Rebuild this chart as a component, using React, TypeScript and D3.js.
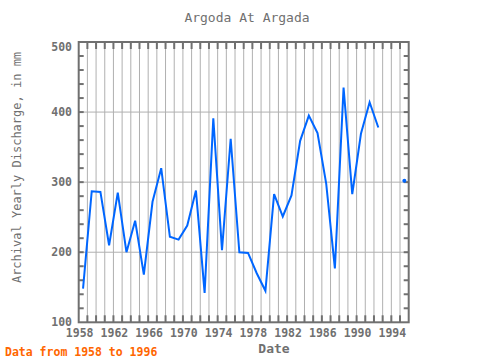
import React from "react";
import * as d3 from "d3";

const years: number[] = [
  1958, 1959, 1960, 1961, 1962, 1963, 1964, 1965, 1966, 1967,
  1968, 1969, 1970, 1971, 1972, 1973, 1974, 1975, 1976, 1977,
  1978, 1979, 1980, 1981, 1982, 1983, 1984, 1985, 1986, 1987,
  1988, 1989, 1990, 1991, 1992, 1993, 1994, 1995,
];
const discharge: (number | null)[] = [
  148, 287, 286, 210, 285, 200, 245, 168, 272, 320,
  222, 218, 238, 288, 142, 391, 203, 362, 200, 199,
  170, 145, 283, 251, 281, 359, 395, 370, 298, 177,
  435, 283, 369, 414, 378, null, null, 302,
];
const xTickLabels: number[] = [1958, 1962, 1966, 1970, 1974, 1978, 1982, 1986, 1990, 1994];
const yTickLabels: number[] = [100, 200, 300, 400, 500];

const W = 480;
const H = 360;
const L = 78.7, R = 408.7, T = 42, B = 322.3;
const FONT = "'DejaVu Sans Mono', monospace";
const GRAY = "#707070";

export default function App() {
  const x = d3.scaleLinear().domain([1958, 1996]).range([L, R]);
  const y = d3.scaleLinear().domain([100, 500]).range([B, T]);
  const pts = years.map((yr, i) => ({ t: yr + 0.5, v: discharge[i] }));
  const line = d3
    .line<{ t: number; v: number | null }>()
    .defined((d) => d.v !== null)
    .x((d) => x(d.t))
    .y((d) => y(d.v as number));
  const isolated = pts.filter((d, i) => d.v !== null && (i === 0 || pts[i - 1].v === null) && (i === pts.length - 1 || pts[i + 1].v === null));
  const yearTicks = d3.range(1959, 1996);
  const minorY = d3.range(120, 500, 20);
  const majorY = [200, 300, 400];

  return (
    <svg width={W} height={H} style={{ position: "absolute", left: 0, top: 0 }}>
      <rect x={0} y={0} width={W} height={H} fill="#fff" />
      {yearTicks.map((t) => (
        <line key={"vg" + t} x1={x(t)} x2={x(t)} y1={T} y2={B} stroke="#b0b0b0" strokeWidth={1} />
      ))}
      {majorY.map((v) => (
        <line key={"hg" + v} x1={L} x2={R} y1={y(v)} y2={y(v)} stroke="#b0b0b0" strokeWidth={1} />
      ))}
      {yearTicks.map((t) => (
        <g key={"xt" + t}>
          <line x1={x(t)} x2={x(t)} y1={T} y2={T + 7} stroke={GRAY} strokeWidth={2} />
          <line x1={x(t)} x2={x(t)} y1={B} y2={B - 7} stroke={GRAY} strokeWidth={2} />
        </g>
      ))}
      {minorY.map((v) => (
        <g key={"yt" + v}>
          <line x1={L} x2={L + 5} y1={y(v)} y2={y(v)} stroke={GRAY} strokeWidth={2} />
          <line x1={R} x2={R - 5} y1={y(v)} y2={y(v)} stroke={GRAY} strokeWidth={2} />
        </g>
      ))}
      <path d={line(pts) || ""} fill="none" stroke="#0066ff" strokeWidth={2} />
      {isolated.map((d, i) => (
        <circle key={"iso" + i} cx={x(d.t)} cy={y(d.v as number)} r={2} fill="#0066ff" />
      ))}
      <rect x={L} y={T} width={R - L} height={B - T} fill="none" stroke={GRAY} strokeWidth={2} />
      {xTickLabels.map((t) => (
        <text key={"xl" + t} x={x(t) + 1} y={337} textAnchor="middle" fontFamily={FONT} fontSize={11.5} fontWeight="bold" fill={GRAY}>
          {t}
        </text>
      ))}
      {yTickLabels.map((v) => (
        <text key={"yl" + v} x={72} y={Math.max(y(v) + 4, 51)} textAnchor="end" fontFamily={FONT} fontSize={11.5} fontWeight="bold" fill={GRAY}>
          {v}
        </text>
      ))}
      <text x={247} y={22} textAnchor="middle" fontFamily={FONT} fontSize={13} fill={GRAY}>
        Argoda At Argada
      </text>
      <text x={274} y={352.5} textAnchor="middle" fontFamily={FONT} fontSize={13} fontWeight="bold" fill={GRAY}>
        Date
      </text>
      <text transform="translate(21,167.5) rotate(-90)" textAnchor="middle" fontFamily={FONT} fontSize={12} fill={GRAY}>
        Archival Yearly Discharge, in mm
      </text>
      <text x={5} y={356} fontFamily={FONT} fontSize={11.5} fontWeight="bold" fill="#ff6600">
        Data from 1958 to 1996
      </text>
    </svg>
  );
}
